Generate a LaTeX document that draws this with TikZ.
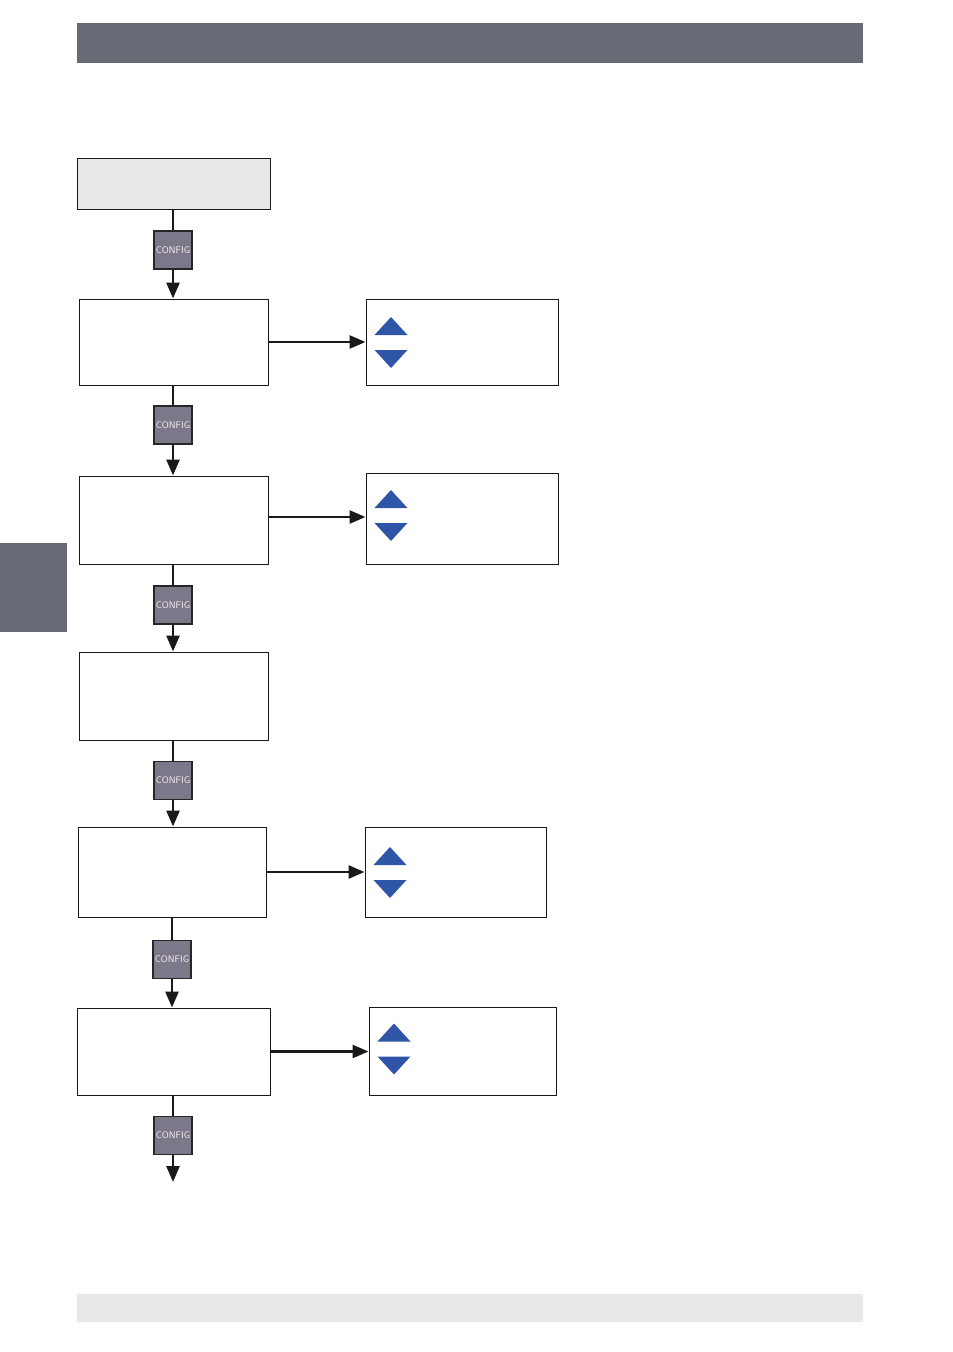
\documentclass[tikz,border=0pt]{standalone}
\usetikzlibrary{arrows.meta}
\definecolor{barcol}{HTML}{676B76}
\definecolor{lightcol}{HTML}{E8E8E8}
\definecolor{btncol}{HTML}{7B7889}
\definecolor{tricol}{HTML}{2F55A8}
\begin{document}
\begin{tikzpicture}[>={Triangle[length=16pt,width=13pt]},x=1pt,y=-1pt,
	box/.style={draw=black!90,line width=1pt,inner sep=0pt},
	cfg/.style={draw=black!85,fill=btncol,line width=1.1pt,minimum size=38pt,inner sep=0pt,
		text=red!5,font=\sffamily\fontsize{9.5}{9.5}\selectfont},
	flowline/.style={draw=black!90,line width=2.6pt},
	updown/.pic={\fill[tricol] (9,-7)--(42,-7)--(25.5,-25)--cycle;
		\fill[tricol] (9,8)--(42,8)--(25.5,26)--cycle;}]
	\useasboundingbox (0,0) rectangle (953,1352);
	\fill[barcol] (77,23) rectangle (863,63);
	\fill[barcol] (0,543) rectangle (67,632);
	\fill[lightcol] (77,1294) rectangle (863,1322);
	% left column
	\node[box,fill=lightcol,minimum width=193pt,minimum height=51pt] (start) at (173.5,183.5) {};
	\node[box,minimum width=189pt,minimum height=86pt] (s1) at (173.5,342) {};
	\node[box,minimum width=189pt,minimum height=88pt] (s2) at (173.5,520) {};
	\node[box,minimum width=189pt,minimum height=88pt] (s3) at (173.5,696) {};
	\node[box,minimum width=188pt,minimum height=90pt] (s4) at (172,872) {};
	\node[box,minimum width=193pt,minimum height=87pt] (s5) at (173.5,1051.5) {};
	% right column
	\node[box,minimum width=192pt,minimum height=86pt] (v1) at (462,342) {};
	\node[box,minimum width=192pt,minimum height=91pt] (v2) at (462,518.5) {};
	\node[box,minimum width=181pt,minimum height=90pt] (v4) at (455.5,872) {};
	\node[box,minimum width=187pt,minimum height=88pt] (v5) at (462.5,1051) {};
	% config keys
	\node[cfg] (c1) at (173,250) {CONFIG};
	\node[cfg] (c2) at (173,425) {CONFIG};
	\node[cfg] (c3) at (173,605) {CONFIG};
	\node[cfg] (c4) at (173,780.5) {CONFIG};
	\node[cfg] (c5) at (172,959.5) {CONFIG};
	\node[cfg] (c6) at (173,1135.5) {CONFIG};
	\coordinate (end) at (173,1182);
	\draw[flowline] (c1.north|-start.south)--(c1.north); \draw[flowline,->] (c1.south)--(c1.south|-s1.north);
	\draw[flowline] (c2.north|-s1.south)--(c2.north); \draw[flowline,->] (c2.south)--(c2.south|-s2.north);
	\draw[flowline] (c3.north|-s2.south)--(c3.north); \draw[flowline,->] (c3.south)--(c3.south|-s3.north);
	\draw[flowline] (c4.north|-s3.south)--(c4.north); \draw[flowline,->] (c4.south)--(c4.south|-s4.north);
	\draw[flowline] (c5.north|-s4.south)--(c5.north); \draw[flowline,->] (c5.south)--(c5.south|-s5.north);
	\draw[flowline] (c6.north|-s5.south)--(c6.north); \draw[flowline,->] (c6.south)--(end);
	% value selection
	\coordinate (a2) at ([yshift=3pt]s2.east);
	\coordinate (t2) at ([yshift=5pt]s2.east);
	\coordinate (t5) at ([yshift=3pt]s5.east);
	\draw[flowline,->] (s1.east)--(v1.west|-s1.east);
	\draw[flowline,->] (a2)--(v2.west|-a2);
	\draw[flowline,->] (s4.east)--(v4.west|-s4.east);
	\draw[flowline,->] (s5.east)--(v5.west|-s5.east);
	\pic at (v1.west|-s1.east) {updown};
	\pic at (v2.west|-t2) {updown};
	\pic at (v4.west|-s4.east) {updown};
	\pic at (v5.west|-t5) {updown};
\end{tikzpicture}
\end{document}
